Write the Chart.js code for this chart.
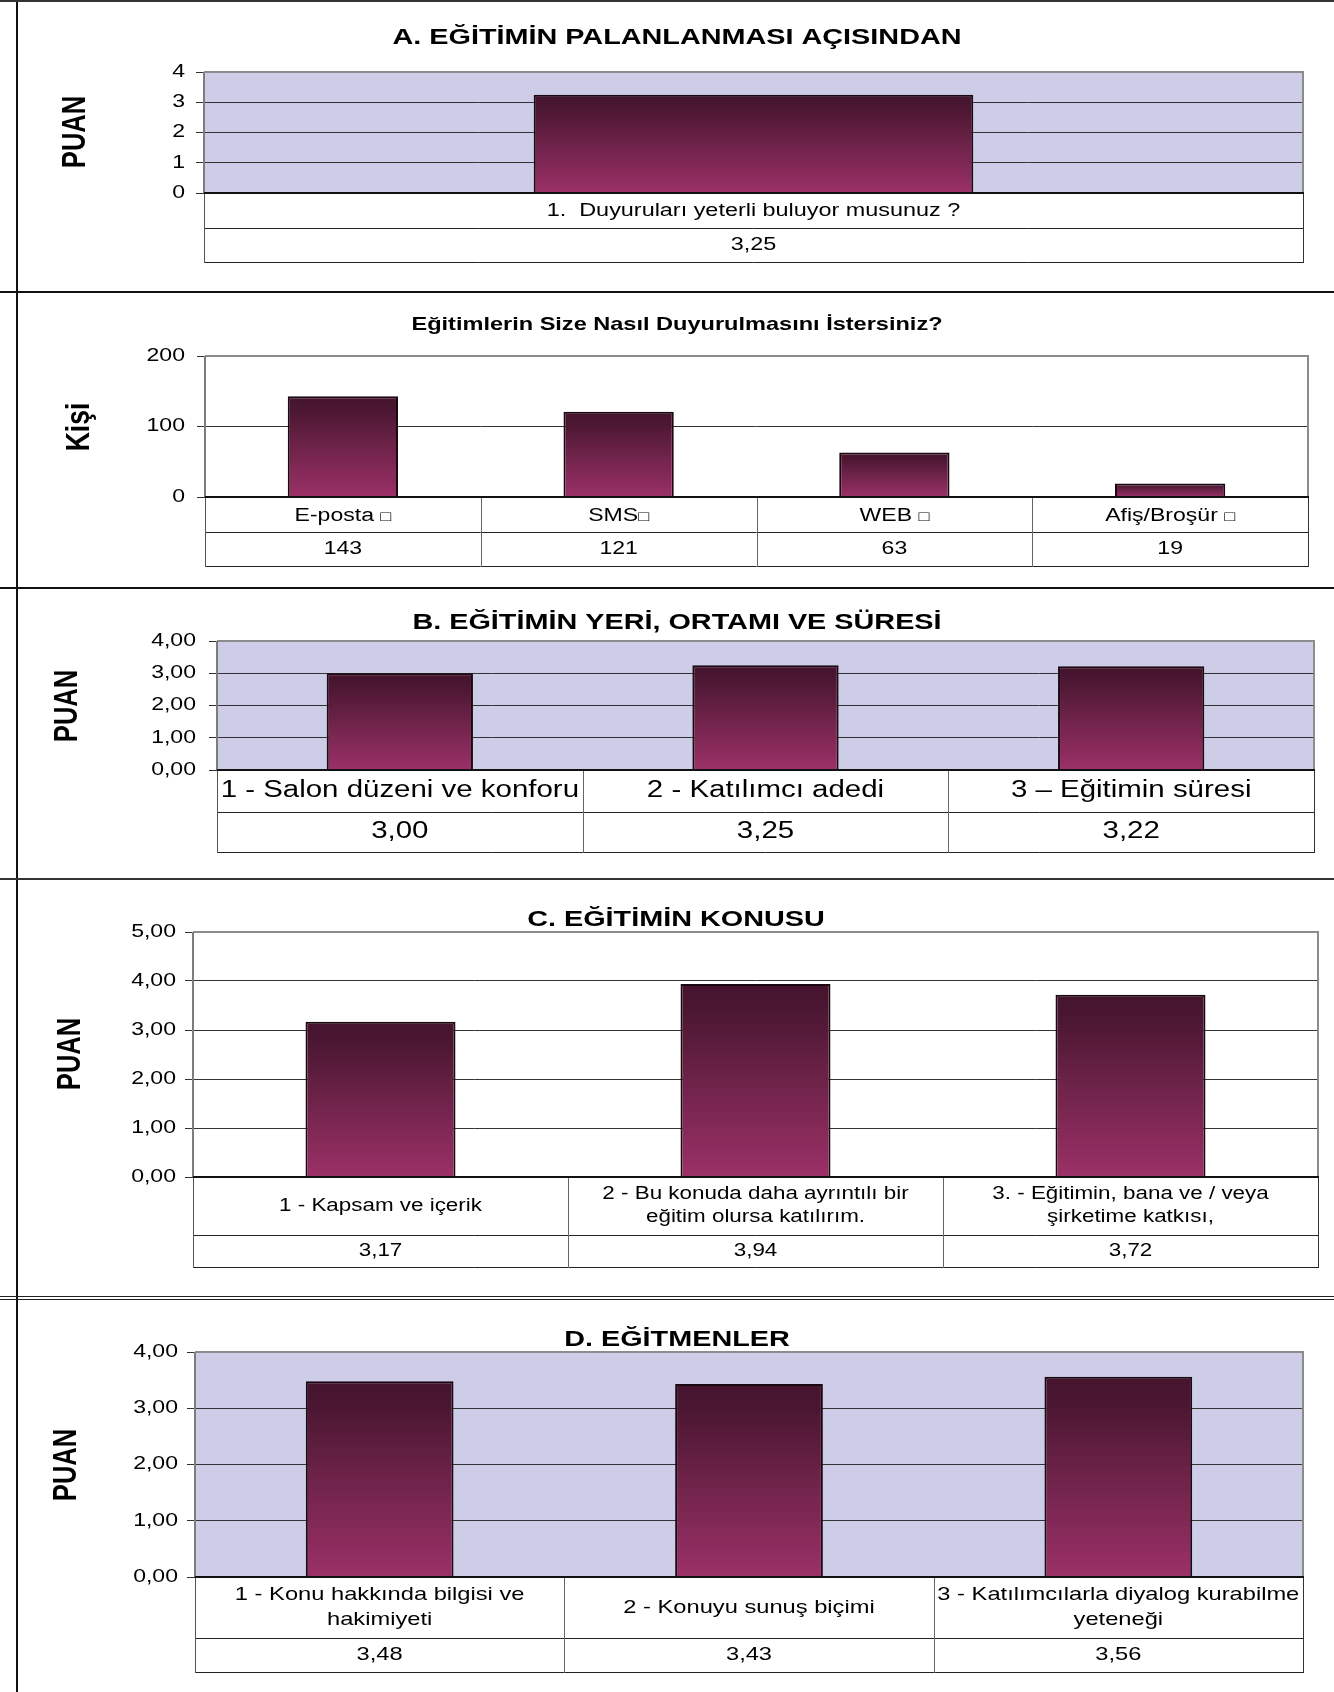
<!DOCTYPE html>
<html lang="tr">
<head>
<meta charset="utf-8">
<title>Eğitim Değerlendirme Sonuçları</title>
<script src="https://cdn.jsdelivr.net/npm/chart.js@4.4.1/dist/chart.umd.min.js"></script>
<style>
  html, body { margin: 0; padding: 0; background: #fff; }
  #page { position: relative; width: 1334px; height: 1692px; overflow: hidden; background: #fff; }
  #page canvas { position: absolute; left: 0; }
  .rule { position: absolute; background: #111; }
</style>
</head>
<body>
<div id="page">
  <canvas id="chartPlan" width="1334" height="292" style="top:0px"></canvas>
  <canvas id="chartChannel" width="1334" height="296" style="top:292px"></canvas>
  <canvas id="chartVenue" width="1334" height="291" style="top:588px"></canvas>
  <canvas id="chartTopic" width="1334" height="418" style="top:879px"></canvas>
  <canvas id="chartTrainer" width="1334" height="395" style="top:1297px"></canvas>

  <!-- page frame: left rule and section separators -->
  <div class="rule" style="left:16px;top:0;width:2px;height:1692px"></div>
  <div class="rule" style="left:0;top:0;width:1334px;height:2px;background:#333"></div>
  <div class="rule" style="left:0;top:291px;width:1334px;height:2px"></div>
  <div class="rule" style="left:0;top:587px;width:1334px;height:2px"></div>
  <div class="rule" style="left:0;top:878px;width:1334px;height:2px;background:#333"></div>
  <div class="rule" style="left:0;top:1296px;width:1334px;height:1px;background:#222"></div>
  <div class="rule" style="left:0;top:1299px;width:1334px;height:1px;background:#222"></div>
</div>

<script>
// ---- A. planning ----
const planCategories = ['1.  Duyuruları yeterli buluyor musunuz ?'];
const planScores = [3.25];
const planTicks = ['0', '1', '2', '3', '4'];

// ---- preferred announcement channel (people) ----
const channelCategories = ['E-posta □', 'SMS□', 'WEB □', 'Afiş/Broşür □'];
const channelCounts = [143, 121, 63, 19];
const channelTicks = ['0', '100', '200'];

// ---- B. venue, setting and duration ----
const venueCategories = ['1 - Salon düzeni ve konforu', '2 - Katılımcı adedi', '3 – Eğitimin süresi'];
const venueScores = [3.00, 3.25, 3.22];

// ---- C. topic ----
const topicCategories = [
  '1 - Kapsam ve içerik',
  ['2 - Bu konuda daha ayrıntılı bir', 'eğitim olursa katılırım.'],
  ['3. - Eğitimin, bana ve / veya', 'şirketime katkısı,']
];
const topicScores = [3.17, 3.94, 3.72];

// ---- D. trainers ----
const trainerCategories = [
  ['1 - Konu hakkında bilgisi ve', 'hakimiyeti'],
  '2 - Konuyu sunuş biçimi',
  ['3 - Katılımcılarla diyalog kurabilme', 'yeteneği']
];
const trainerScores = [3.48, 3.43, 3.56];

const scoreTicks4 = ['0,00', '1,00', '2,00', '3,00', '4,00'];
const scoreTicks5 = ['0,00', '1,00', '2,00', '3,00', '4,00', '5,00'];

// ---- styling ----
const FONT = '"Liberation Sans", Arial, Helvetica, sans-serif';
const STRETCH = 1.28;          // horizontal widening applied to all lettering
const LAVENDER = '#CECDE8';
const BOX = '□';

function fontSpec(size, bold) {
  return (bold ? 'bold ' : '') + size + 'px ' + FONT;
}

// Draws a string widened by STRETCH; box glyphs are set in a smaller size.
function drawText(ctx, text, x, y, o) {
  ctx.save();
  ctx.fillStyle = o.color || '#000';
  ctx.translate(x, y);
  ctx.scale(STRETCH, 1);
  if (o.rotate) ctx.rotate(-Math.PI / 2);
  const runs = text.split(/(□)/).filter(s => s.length);
  if (!text.includes(BOX)) {
    ctx.font = fontSpec(o.size, o.bold);
    ctx.textBaseline = 'middle';
    ctx.textAlign = o.align || 'center';
    ctx.fillText(text, 0, 0);
  } else {
    const fontOf = r => r === BOX ? fontSpec(Math.round(o.size * 0.8), false) : fontSpec(o.size, o.bold);
    const widths = runs.map(r => { ctx.font = fontOf(r); return ctx.measureText(r).width; });
    const total = widths.reduce((s, w) => s + w, 0);
    const align = o.align || 'center';
    let cx = align === 'center' ? -total / 2 : align === 'right' ? -total : 0;
    const base = o.size * 0.36;
    ctx.textAlign = 'left';
    ctx.textBaseline = 'alphabetic';
    runs.forEach((r, i) => {
      ctx.font = fontOf(r);
      ctx.fillText(r, cx, base);
      cx += widths[i];
    });
  }
  ctx.restore();
}

function hLine(ctx, x1, x2, y, color, w) {
  ctx.save();
  ctx.strokeStyle = color; ctx.lineWidth = w;
  const yy = (w % 2) ? Math.round(y) + 0.5 : Math.round(y);
  ctx.beginPath(); ctx.moveTo(x1, yy); ctx.lineTo(x2, yy); ctx.stroke();
  ctx.restore();
}
function vLine(ctx, x, y1, y2, color, w) {
  ctx.save();
  ctx.strokeStyle = color; ctx.lineWidth = w;
  const xx = (w % 2) ? Math.round(x) + 0.5 : Math.round(x);
  ctx.beginPath(); ctx.moveTo(xx, y1); ctx.lineTo(xx, y2); ctx.stroke();
  ctx.restore();
}

// each bar shades from dark plum at its top to magenta at the baseline
function barGradient(c) {
  const chart = c.chart;
  if (!chart.chartArea || c.type !== 'data') return '#7a264e';
  const y = chart.scales.y;
  const top = y.getPixelForValue(c.raw);
  const base = y.getPixelForValue(0);
  const g = chart.ctx.createLinearGradient(0, top, 0, base);
  g.addColorStop(0, '#46142E');
  g.addColorStop(0.12, '#4A1631');
  g.addColorStop(0.5, '#6E2349');
  g.addColorStop(0.85, '#8D2C5E');
  g.addColorStop(1, '#9C3167');
  return g;
}

function formatValue(v, decimals) {
  return decimals ? v.toFixed(decimals).replace('.', ',') : String(v);
}

function panelPlugin(p) {
  return {
    id: 'panel_' + p.id,
    beforeDraw(chart) {
      if (!p.fill) return;
      const { ctx, chartArea: a } = chart;
      ctx.save();
      ctx.fillStyle = p.fill;
      ctx.fillRect(a.left, a.top, a.right - a.left, a.bottom - a.top);
      ctx.restore();
    },
    afterDraw(chart) {
      const { ctx, chartArea: a, scales } = chart;
      const x = scales.x, y = scales.y;
      const off = p.top;
      const n = chart.data.labels.length;
      const colW = (a.right - a.left) / n;
      const r1 = a.bottom + p.rows[0];
      const r2 = r1 + p.rows[1];

      // plot frame
      hLine(ctx, a.left, a.right + 1, a.top, '#8c8c8c', 2);
      vLine(ctx, a.right, a.top, a.bottom, '#8c8c8c', 2);
      vLine(ctx, a.left, a.top, a.bottom, '#7d7d7d', 2);

      // data table under the plot
      hLine(ctx, a.left, a.right, r1, '#222', 1);
      hLine(ctx, a.left, a.right, r2, '#222', 1);
      vLine(ctx, a.left, a.bottom, r2 + 1, '#555', 1);
      vLine(ctx, a.right, a.bottom, r2 + 1, '#333', 1);
      for (let i = 1; i < n; i++) {
        vLine(ctx, x.getPixelForValue(i) - colW / 2, a.bottom, r2 + 1, '#666', 1);
      }
      hLine(ctx, a.left, a.right + 1, a.bottom, '#111', 2);

      // tick labels
      y.ticks.forEach((t, i) => {
        const label = t.label !== undefined ? t.label : p.tickLabels[i];
        drawText(ctx, label, p.tickRight, y.getPixelForValue(t.value), { size: p.tickSize, align: 'right' });
      });

      // category names and values
      chart.data.labels.forEach((lab, i) => {
        const cx = x.getPixelForValue(i);
        const lines = Array.isArray(lab) ? lab : [lab];
        const mid = a.bottom + p.rows[0] / 2;
        lines.forEach((ln, k) => {
          const ly = mid + (k - (lines.length - 1) / 2) * p.lineGap;
          drawText(ctx, ln, cx, ly, { size: p.tableSize });
        });
        const v = chart.data.datasets[0].data[i];
        drawText(ctx, formatValue(v, p.decimals), cx, r1 + p.rows[1] / 2, { size: p.tableSize });
      });

      // heading and axis title
      drawText(ctx, p.title, p.titleX, p.titleY - off, { size: p.titleSize, bold: true });
      drawText(ctx, p.axisTitle, p.axisX, p.axisY - off, { size: p.axisSize, bold: true, rotate: true });
    }
  };
}

function buildChart(p) {
  const canvas = document.getElementById(p.id);
  const W = canvas.width, H = canvas.height;
  const left = p.plot.left, right = p.plot.right;
  const top = p.plot.top - p.top, bottom = p.plot.bottom - p.top;
  return new Chart(canvas, {
    type: 'bar',
    data: {
      labels: p.labels,
      datasets: [{
        data: p.values,
        backgroundColor: barGradient,
        borderColor: '#1b0811',
        borderWidth: 2,
        borderSkipped: 'bottom',
        barPercentage: 0.4,
        categoryPercentage: 1.0
      }]
    },
    options: {
      responsive: false,
      animation: false,
      devicePixelRatio: 1,
      layout: { padding: { left: 0, right: W - right, top: top, bottom: H - bottom } },
      plugins: { legend: { display: false }, title: { display: false }, tooltip: { enabled: false } },
      scales: {
        x: { display: false },
        y: {
          min: 0,
          max: (p.tickLabels.length - 1) * p.step,
          ticks: { stepSize: p.step, display: false, callback: (v, i) => p.tickLabels[i] },
          grid: { color: '#333', lineWidth: 1, drawTicks: true, tickLength: 8 },
          border: { display: false },
          afterFit: s => { s.width = left; }
        }
      }
    },
    plugins: [panelPlugin(p)]
  });
}

const panels = [
  {
    id: 'chartPlan', top: 0,
    title: 'A. EĞİTİMİN PALANLANMASI AÇISINDAN', titleX: 677, titleY: 38, titleSize: 22.5,
    axisTitle: 'PUAN', axisX: 76, axisY: 132, axisSize: 25.5,
    labels: planCategories, values: planScores, tickLabels: planTicks, step: 1, decimals: 2,
    plot: { left: 204, right: 1303, top: 72, bottom: 193 },
    tickRight: 185, tickSize: 18, rows: [35, 34], tableSize: 18.3, lineGap: 23, fill: LAVENDER
  },
  {
    id: 'chartChannel', top: 292,
    title: 'Eğitimlerin Size Nasıl Duyurulmasını İstersiniz?', titleX: 677, titleY: 325, titleSize: 18.4,
    axisTitle: 'Kişi', axisX: 80, axisY: 427, axisSize: 26.5,
    labels: channelCategories, values: channelCounts, tickLabels: channelTicks, step: 100, decimals: 0,
    plot: { left: 205, right: 1308, top: 356, bottom: 497 },
    tickRight: 185, tickSize: 18, rows: [35, 34], tableSize: 18, lineGap: 23, fill: null
  },
  {
    id: 'chartVenue', top: 588,
    title: 'B. EĞİTİMİN YERİ, ORTAMI VE SÜRESİ', titleX: 677, titleY: 623, titleSize: 22.5,
    axisTitle: 'PUAN', axisX: 68, axisY: 706, axisSize: 25.5,
    labels: venueCategories, values: venueScores, tickLabels: scoreTicks4, step: 1, decimals: 2,
    plot: { left: 217, right: 1314, top: 641, bottom: 770 },
    tickRight: 196, tickSize: 18, rows: [42, 40], tableSize: 23, lineGap: 25, fill: LAVENDER
  },
  {
    id: 'chartTopic', top: 879,
    title: 'C. EĞİTİMİN KONUSU', titleX: 676, titleY: 920, titleSize: 22.5,
    axisTitle: 'PUAN', axisX: 71, axisY: 1054, axisSize: 25.5,
    labels: topicCategories, values: topicScores, tickLabels: scoreTicks5, step: 1, decimals: 2,
    plot: { left: 193, right: 1318, top: 932, bottom: 1177 },
    tickRight: 176, tickSize: 18, rows: [58, 32], tableSize: 17.5, lineGap: 23, fill: null
  },
  {
    id: 'chartTrainer', top: 1297,
    title: 'D. EĞİTMENLER', titleX: 677, titleY: 1340, titleSize: 22.5,
    axisTitle: 'PUAN', axisX: 67, axisY: 1465, axisSize: 25.5,
    labels: trainerCategories, values: trainerScores, tickLabels: scoreTicks4, step: 1, decimals: 2,
    plot: { left: 195, right: 1303, top: 1352, bottom: 1577 },
    tickRight: 178, tickSize: 18, rows: [61, 34], tableSize: 18.5, lineGap: 25, fill: LAVENDER
  }
];

panels.forEach(buildChart);
</script>
</body>
</html>
